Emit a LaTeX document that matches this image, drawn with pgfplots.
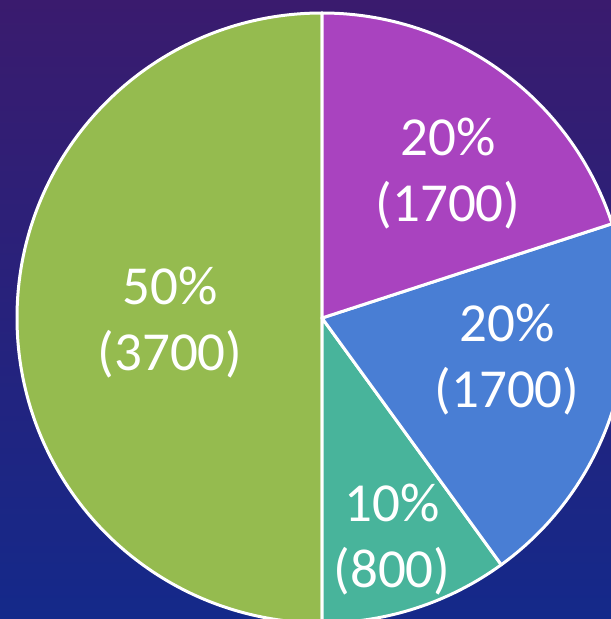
\documentclass[border=0pt]{standalone}
\usepackage{pgfplots}
\usepackage{pgfplotstable}
\pgfplotsset{compat=1.18}
\usepackage{fontspec}
\setmainfont{Carlito}

\definecolor{cgreen}{HTML}{95BB4F}
\definecolor{cteal}{HTML}{48B49B}
\definecolor{cblue}{HTML}{497ED4}
\definecolor{cpurple}{HTML}{A943BF}
\definecolor{bgtop}{HTML}{3A1B6E}
\definecolor{bgbot}{HTML}{14298A}

% slice percentage, count, colour, label position (axis units = bp, pie centre at 0,0)
\pgfplotstableread{
pct count col lx ly
50 3700 cgreen -152 -5
10 800 cteal 70 -222
20 1700 cblue 185 -42
20 1700 cpurple 126 144
}\piedata

\def\cum{0}
\pgfplotsforeachungrouped \i in {0,...,3}{%
  \pgfplotstablegetelem{\i}{pct}\of\piedata \let\p\pgfplotsretval
  \pgfplotstablegetelem{\i}{count}\of\piedata \let\cnt\pgfplotsretval
  \pgfplotstablegetelem{\i}{col}\of\piedata \let\c\pgfplotsretval
  \pgfplotstablegetelem{\i}{lx}\of\piedata \let\lx\pgfplotsretval
  \pgfplotstablegetelem{\i}{ly}\of\piedata \let\ly\pgfplotsretval
  \pgfmathsetmacro\a{90+3.6*\cum}%
  \pgfmathsetmacro\b{90+3.6*(\cum+\p)}%
  \expandafter\xdef\csname sa\i\endcsname{\a}%
  \expandafter\xdef\csname sb\i\endcsname{\b}%
  \expandafter\xdef\csname pc\i\endcsname{\p}%
  \expandafter\xdef\csname cn\i\endcsname{\cnt}%
  \expandafter\xdef\csname lx\i\endcsname{\lx}%
  \expandafter\xdef\csname ly\i\endcsname{\ly}%
  \colorlet{pie\i}{\c}%
  \pgfmathsetmacro\cum{\cum+\p}%
}

\begin{document}
\begin{tikzpicture}
\clip (0,0) rectangle (611bp,619bp);
\shade[top color=bgtop, bottom color=bgbot] (0,0) rectangle (611bp,619bp);
\begin{axis}[
  at={(322bp,301bp)}, anchor=origin,
  x=1bp, y=1bp,
  xmin=-322, xmax=289, ymin=-301, ymax=318,
  hide axis, clip=false,
]
\pgfplotsinvokeforeach{0,...,3}{
  \fill[fill=pie#1, draw=white, line width=3bp, line join=round]
    (axis cs:0,0) -- (axis cs:{305*cos(\csname sa#1\endcsname)},{305*sin(\csname sa#1\endcsname)})
    arc[start angle=\csname sa#1\endcsname, end angle=\csname sb#1\endcsname, radius=305bp] -- cycle;
}
\pgfplotsinvokeforeach{0,...,3}{
  \node[text=white, align=center, font=\fontsize{55bp}{66bp}\selectfont]
    at (axis cs:\csname lx#1\endcsname,\csname ly#1\endcsname)
    {\csname pc#1\endcsname\%\\(\csname cn#1\endcsname)};
}
\end{axis}
\end{tikzpicture}
\end{document}
